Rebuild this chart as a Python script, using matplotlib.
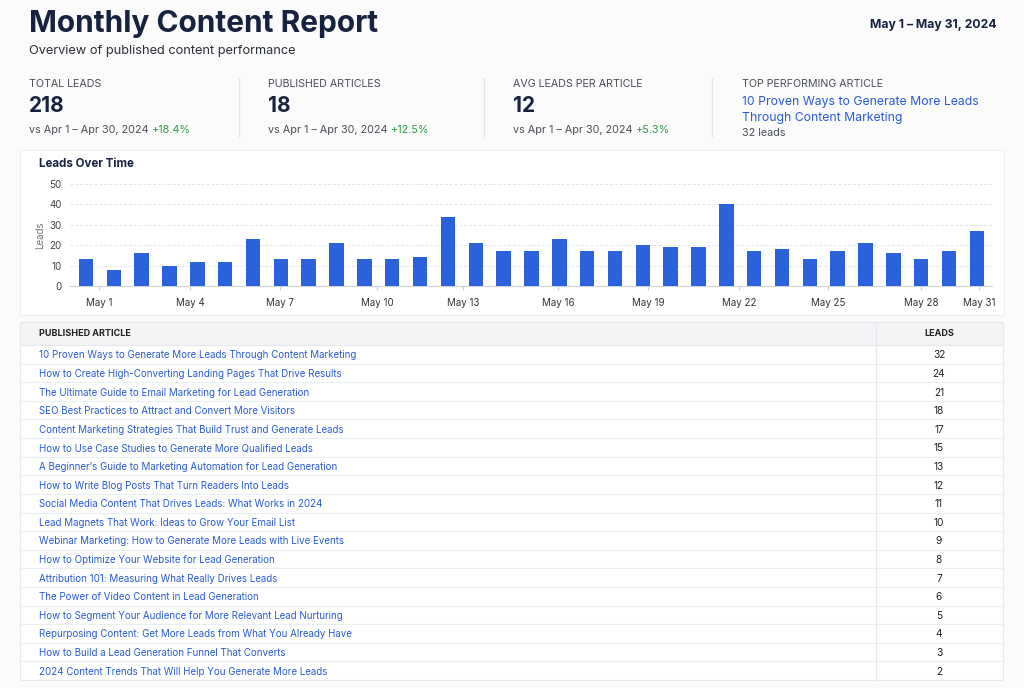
import matplotlib
matplotlib.use("Agg")
import matplotlib.pyplot as plt
from matplotlib.patches import Rectangle

plt.rcParams['font.family'] = ['Inter', 'DejaVu Sans']

# ---------------- data ----------------
report_title = "Monthly Content Report"
report_subtitle = "Overview of published content performance"
date_range = "May 1 \u2013 May 31, 2024"

kpi_labels = ["TOTAL LEADS", "PUBLISHED ARTICLES", "AVG LEADS PER ARTICLE"]
kpi_values = ["218", "18", "12"]
kpi_compare = ["vs Apr 1 \u2013 Apr 30, 2024"] * 3
kpi_change = ["+18.4%", "+12.5%", "+5.3%"]

top_label = "TOP PERFORMING ARTICLE"
top_title_lines = ["10 Proven Ways to Generate More Leads", "Through Content Marketing"]
top_leads = "32 leads"

daily_leads = [13, 8, 16, 10, 12, 12, 23, 13, 13, 21, 13, 13, 14, 34, 21, 17,
               17, 23, 17, 17, 20, 19, 19, 40, 17, 18, 13, 17, 21, 16, 13, 17, 27]
x_tick_labels = ["May 1", "May 4", "May 7", "May 10", "May 13", "May 16",
                 "May 19", "May 22", "May 25", "May 28", "May 31"]
y_ticks = [0, 10, 20, 30, 40, 50]

articles = [
    "10 Proven Ways to Generate More Leads Through Content Marketing",
    "How to Create High-Converting Landing Pages That Drive Results",
    "The Ultimate Guide to Email Marketing for Lead Generation",
    "SEO Best Practices to Attract and Convert More Visitors",
    "Content Marketing Strategies That Build Trust and Generate Leads",
    "How to Use Case Studies to Generate More Qualified Leads",
    "A Beginner\u2019s Guide to Marketing Automation for Lead Generation",
    "How to Write Blog Posts That Turn Readers Into Leads",
    "Social Media Content That Drives Leads: What Works in 2024",
    "Lead Magnets That Work: Ideas to Grow Your Email List",
    "Webinar Marketing: How to Generate More Leads with Live Events",
    "How to Optimize Your Website for Lead Generation",
    "Attribution 101: Measuring What Really Drives Leads",
    "The Power of Video Content in Lead Generation",
    "How to Segment Your Audience for More Relevant Lead Nurturing",
    "Repurposing Content: Get More Leads from What You Already Have",
    "How to Build a Lead Generation Funnel That Converts",
    "2024 Content Trends That Will Help You Generate More Leads",
]
article_leads = [32, 24, 21, 18, 17, 15, 13, 12, 11, 10, 9, 8, 7, 6, 5, 4, 3, 2]

# ---------------- styles ----------------
W, H = 1024, 688
NAVY = "#17223f"
GRAY = "#4a4f57"
GREEN = "#2f9a48"
LINK = "#2b5bd3"
BAR = "#2b62db"
BORDER = "#e6e8eb"

fig = plt.figure(figsize=(W / 100, H / 100), dpi=100, facecolor="#fbfbfc")

# overlay axes in pixel coordinates
bg = fig.add_axes([0, 0, 1, 1])
bg.set_xlim(0, W)
bg.set_ylim(H, 0)
bg.axis("off")


def T(x, y, s, **kw):
    kw.setdefault("va", "center")
    kw.setdefault("ha", "left")
    return bg.text(x, y, s, **kw)


# header
T(29, 23.5, report_title, fontsize=21.5, fontweight="bold", color=NAVY)
T(29, 51, report_subtitle, fontsize=9.2, color="#2b2f36")
T(996, 25, date_range, fontsize=8.8, fontweight="bold", color=NAVY, ha="right")

# KPI blocks
kpi_x = [29, 268, 513]
for i in range(3):
    x = kpi_x[i]
    T(x, 84, kpi_labels[i], fontsize=7.7, color=GRAY)
    T(x, 106, kpi_values[i], fontsize=15, fontweight="bold", color=NAVY)
    t = T(x, 130, kpi_compare[i] + " ", fontsize=7.8, color=GRAY)
    fig.canvas.draw()
    bb = t.get_window_extent()
    T(bb.x1, 130, kpi_change[i], fontsize=7.8, color=GREEN)
for dx in [239, 484, 712]:
    bg.plot([dx, dx], [78, 136], color="#e2e4e8", lw=1)

T(742, 84, top_label, fontsize=7.7, color=GRAY)
T(742, 101.5, top_title_lines[0], fontsize=8.8, color=LINK)
T(742, 117.5, top_title_lines[1], fontsize=8.8, color=LINK)
T(742, 133.5, top_leads, fontsize=7.8, color=GRAY)

# chart card
bg.add_patch(Rectangle((20, 150), 984, 165, facecolor="white", edgecolor="#eeeff1", lw=0.8, zorder=0))
T(39, 164, "Leads Over Time", fontsize=8.3, fontweight="bold", color=NAVY)

# chart axes (pixel box: x 70..992, y 184..286)
ax_l, ax_r, ax_t, ax_b = 70, 992, 184, 286
ax = fig.add_axes([ax_l / W, 1 - ax_b / H, (ax_r - ax_l) / W, (ax_b - ax_t) / H])
ax.set_facecolor("none")
xs = list(range(len(daily_leads)))
ax.bar(xs, daily_leads, width=0.52, color=BAR, zorder=3)
step = 27.84
ax.set_xlim((ax_l - 86) / step, (ax_r - 86) / step)
ax.set_ylim(0, 50)
ax.set_yticks(y_ticks)
ax.set_yticklabels([str(v) for v in y_ticks], fontsize=7, color="#444")
tick_pos = [0.47, 3.74, 6.97, 10.45, 13.54, 16.95, 20.19, 23.45, 26.65, 30.0, 32.08]
ax.set_xticks(tick_pos)
ax.set_xticklabels(x_tick_labels, fontsize=7, color="#333")
ax.tick_params(axis="y", length=0, pad=6)
ax.tick_params(axis="x", length=3, color="#cfd2d6", pad=5.5)
ax.grid(axis="y", color="#e3e5e8", linestyle=(0, (3, 2)), lw=0.7, zorder=0)
for s in ["top", "right", "left"]:
    ax.spines[s].set_visible(False)
ax.spines["bottom"].set_color("#cfd2d6")
ax.set_ylabel("Leads", fontsize=7, color="#777", labelpad=3)

# table
tx0, tx1, tdiv = 20, 1003, 876
head_top, head_bot = 322, 345
row_h = (680 - head_bot) / len(articles)
bg.add_patch(Rectangle((tx0, head_top), tx1 - tx0, head_bot - head_top, facecolor="#f3f4f6",
                       edgecolor=BORDER, lw=0.8, zorder=1))
bg.add_patch(Rectangle((tx0, head_bot), tx1 - tx0, 680 - head_bot, facecolor="white",
                       edgecolor=BORDER, lw=0.8, zorder=1))
bg.plot([tdiv, tdiv], [head_top, 680], color=BORDER, lw=0.8, zorder=2)
T(39, 334, "PUBLISHED ARTICLE", fontsize=6.5, fontweight="bold", color="#222")
T(939, 334, "LEADS", fontsize=6.5, fontweight="bold", color="#222", ha="center")
for i, (name, val) in enumerate(zip(articles, article_leads)):
    y0 = head_bot + i * row_h
    if i > 0:
        bg.plot([tx0, tx1], [y0, y0], color="#eceef0", lw=0.8, zorder=2)
    yc = y0 + row_h / 2 + 1
    T(39, yc, name, fontsize=7.0, color=LINK)
    T(939, yc, str(val), fontsize=7.3, color="#222", ha="center")

fig.savefig("out.png", dpi=100, facecolor=fig.get_facecolor())
